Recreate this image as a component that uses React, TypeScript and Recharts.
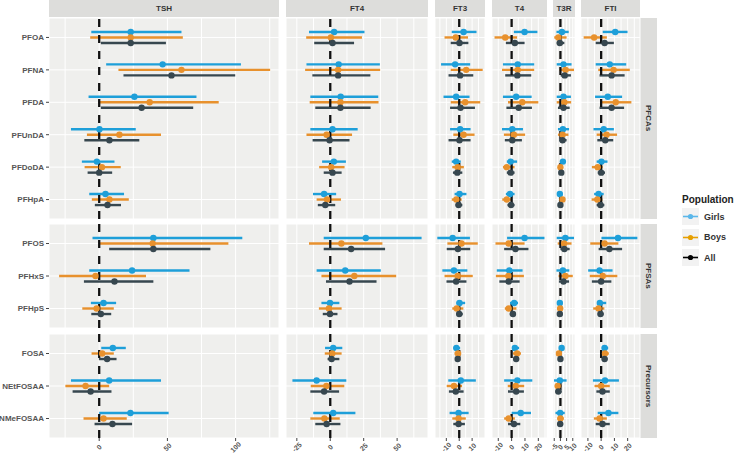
import React from "react";
import { ScatterChart, Scatter, XAxis, YAxis, CartesianGrid, ErrorBar, ReferenceLine } from "recharts";

// compounds, grouped by the right-hand facet
const PFCAS = ["PFOA", "PFNA", "PFDA", "PFUnDA", "PFDoDA", "PFHpA"];
const PFSAS = ["PFOS", "PFHxS", "PFHpS"];
const PRECURSORS = ["FOSA", "NEtFOSAA", "NMeFOSAA"];
const GROUPS = [
  { name: "PFCAs", items: PFCAS },
  { name: "PFSAs", items: PFSAS },
  { name: "Precursors", items: PRECURSORS },
];

// [estimate, lower, upper] per compound, same order as above (PFCAs, PFSAs, Precursors)
const TSH_GIRLS = [[23.1, -5.8, 60.3], [46.5, 5.1, 103.9], [25.8, -7.8, 71.3], [0.2, -20.7, 26.8], [-1.7, -12.7, 11.2], [4.6, -7.3, 18.2], [39.7, -4.9, 104.9], [24.1, -7.3, 66.2], [3.2, -6.1, 12.4], [10, 1.5, 19.5], [7.3, -20.7, 45.3], [22.9, 0, 50.9]];
const TSH_BOYS = [[23.1, -6.6, 61.3], [60.3, 14.1, 125.3], [37, -0.5, 87.6], [14.8, -9, 45.3], [2, -10.7, 15.8], [7.5, -5.4, 21.7], [39.2, 0, 94.7], [-2.7, -29.4, 34.3], [-1.9, -12.4, 10.7], [2.2, -5.6, 10.7], [-10, -24.8, 7.3], [3.2, -11.5, 20.2]];
const TSH_ALL = [[23.1, 1.2, 48.9], [53, 17.8, 99.7], [31.1, 1.2, 68.9], [7.5, -10.9, 29.4], [0, -8.5, 9.5], [6.1, -3.2, 16], [39.7, 7.3, 81.5], [11.2, -11.2, 39.7], [1.2, -5.8, 8.8], [5.8, -0.2, 12.7], [-6.3, -19.5, 9], [9.7, -3.4, 24.1]];

const FT4_GIRLS = [[2.9, -15.9, 25.6], [6.3, -17.8, 37.1], [7.8, -14.9, 35.9], [1.7, -14.9, 20.5], [2.7, -6.1, 11.7], [-4.6, -12.9, 4.4], [26.6, -4.9, 68.3], [11.2, -10.2, 37.8], [-0.2, -6.6, 6.8], [2.2, -3.9, 9], [-10.2, -28.3, 12], [2.2, -12.7, 18.8]];
const FT4_BOYS = [[0.5, -18, 23.7], [5.9, -18.8, 37.3], [7.6, -15.4, 36.1], [-2.7, -17.8, 16.3], [0.7, -8.3, 10.7], [-2.4, -10.2, 8], [8.3, -15.9, 39], [18, -6.6, 49.3], [-1, -8.5, 8.5], [1.5, -4.1, 8.5], [-2.9, -14.6, 10.5], [-4.4, -14.9, 7.1]];
const FT4_ALL = [[1.7, -12, 17.8], [5.9, -13.4, 30], [7.6, -11.2, 30.2], [-0.5, -13.2, 14.4], [1.7, -4.9, 8.5], [-3.7, -9.3, 3.7], [15.6, -4.9, 41], [14.4, -3.2, 34.6], [-0.2, -5.6, 5.4], [1, -2, 6.8], [-4.6, -14.9, 6.6], [-2.7, -11.2, 7.6]];

const FT3_GIRLS = [[3.4, -5.8, 13.4], [-3.2, -14.1, 8.5], [-2.4, -12.2, 8], [0.7, -7.1, 8.8], [-2.4, -5.8, 1.2], [0.2, -3.6, 5.6], [-5.1, -17, 8.3], [-4.1, -13.1, 6.3], [0.2, -2.2, 4.6], [-2.2, -4.6, 0.7], [1.2, -8.5, 12.9], [-0.5, -7.5, 7.3]];
const FT3_BOYS = [[-2.7, -11.4, 6.8], [5.4, -6.6, 18.2], [4.6, -6.6, 16.3], [3.4, -4.6, 11.9], [-1.2, -5.4, 3.6], [-2.2, -5.8, 1.9], [1.7, -9.2, 14.4], [-1.2, -11.4, 10.5], [-1.9, -5.4, 3.2], [-1, -3.6, 1.5], [-4.1, -9.7, 2.2], [-0.5, -5.4, 5.1]];
const FT3_ALL = [[0.2, -6.6, 7.1], [0.7, -8.3, 10.9], [1, -7.1, 12.2], [0.2, -8.3, 8.8], [-1.5, -4.9, 2.4], [-0.5, -2.9, 2.4], [-1, -9.7, 8.5], [-2.4, -9.9, 5.6], [0, -2.2, 2.7], [-1.2, -3.2, 0.7], [-2.7, -8, 3.4], [-0.5, -4.6, 4.4]];

const T4_GIRLS = [[9.7, 1.7, 19.3], [4.6, -6.5, 16.9], [3.4, -6.5, 15], [0.5, -7.2, 8.5], [-0.7, -3.6, 4.1], [-1.2, -4.3, 2.2], [9.7, -3.4, 24.6], [-1.7, -11.1, 8.2], [1.9, -1.2, 4.8], [2.4, 0.5, 5.6], [4.3, -5.6, 15.5], [6.8, 0, 14.5]];
const T4_BOYS = [[-4.8, -12.8, 4.1], [4.6, -7.2, 16.9], [8, -2.7, 20], [1.7, -5.8, 10.1], [-3.6, -6.5, 2.2], [-3.6, -7, -0.2], [-2.2, -12.1, 9.7], [-2.4, -11.8, 9.2], [-2.2, -5.1, 3.6], [4.1, 1, 7], [3.1, -2.9, 9.4], [-2.2, -5.6, 2.4]];
const T4_ALL = [[2.4, -4.3, 9.7], [4.3, -4.8, 14.7], [5.3, -3.9, 15.2], [0.5, -5.1, 7.7], [-0.7, -3.6, 2.2], [-0.5, -3.1, 2.2], [2.9, -5.6, 12.6], [-2.2, -9.2, 6], [1, -1.4, 3.1], [3.4, 1.2, 5.6], [3.4, -2.7, 9.2], [1.7, -2.7, 6.5]];

const T3R_GIRLS = [[1.2, -3.2, 6.7], [2.5, -3, 9], [2.5, -3, 8.5], [2, -2, 7], [2, 0, 4], [-0.5, -2.5, 1.5], [4, -3, 11], [2, -3.2, 7.2], [-0.5, -2.5, 1.5], [1, -1, 2.5], [-0.5, -5.2, 5], [-0.2, -4, 3.5]];
const T3R_BOYS = [[-1.7, -5, 5], [4.2, -0.7, 11], [3.2, -3, 8.7], [1.7, -2, 6.5], [0, -1.7, 2], [1.7, -1.2, 3.5], [3, -2.2, 9], [4, -1.5, 10], [-0.2, -2.5, 2], [-1.2, -3, 0.5], [-2.2, -4.5, 1], [0, -2.5, 2.7]];
const T3R_ALL = [[-0.5, -3, 3.2], [3.5, 0.2, 8.5], [2.5, -2, 7.5], [1.7, -1, 5], [0.7, -1.2, 2.5], [0, -1.5, 2], [3.2, 0, 7.5], [2.5, -1.2, 7], [-0.5, -2.2, 1.5], [0, -1.5, 1.5], [-1.7, -4, 1], [-0.2, -2.5, 2.2]];

const FTI_GIRLS = [[10.6, 1.2, 19.9], [6.5, -4.1, 18.9], [5, -4.6, 15.8], [1.9, -5.8, 9.6], [0.2, -3.4, 4.8], [-1.9, -5.3, 1.9], [12.7, 0.2, 27.3], [-1.2, -9.8, 8.6], [-1, -2.9, 3.8], [2.6, 0.5, 5.3], [2.9, -6.2, 13.4], [5.5, -2.6, 13]];
const FTI_BOYS = [[-5.3, -13.2, 4.3], [9.4, -2.2, 21.6], [11, 0, 22.8], [4.1, -3.4, 12], [-2.6, -7, 1.2], [-2.9, -7.2, 1], [2.6, -8.2, 13], [1.2, -8.6, 12.2], [-1.9, -6, 2.4], [2.9, 0.2, 5.8], [0, -5, 6.5], [-1.2, -5.5, 4.3]];
const FTI_ALL = [[2.6, -4.1, 9.6], [7.9, -1.2, 17.7], [7.9, -1.2, 17.3], [3.1, -2.9, 9.1], [0, -2.6, 2.9], [-0.5, -3.4, 2.4], [6.2, -1.9, 15.8], [0, -7, 7.7], [-0.5, -2.6, 1.9], [2.6, 0.5, 4.8], [1, -3.6, 6.5], [1, -4.1, 6.5]];

// axis ticks: labelled ones and the extra minor grid lines
const TSH_TICKS = [0, 50, 100];
const TSH_GRID = [-25, 0, 25, 50, 75, 100, 125];
const FT4_TICKS = [-25, 0, 25, 50];
const FT4_GRID = [-25, -12.5, 0, 12.5, 25, 37.5, 50, 62.5];
const FT3_TICKS = [-10, 0, 10];
const FT3_GRID = [-15, -10, -5, 0, 5, 10, 15];
const T4_TICKS = [-10, 0, 10, 20];
const T4_GRID = [-10, -5, 0, 5, 10, 15, 20, 25];
const T3R_TICKS = [-5, 0, 5, 10];
const T3R_GRID = [-5, -2.5, 0, 2.5, 5, 7.5, 10];
const FTI_TICKS = [-10, 0, 10, 20];
const FTI_GRID = [-10, -5, 0, 5, 10, 15, 20, 25];

const POPS = [
  { name: "Girls", color: "#1E9FD9", key: "#5BB7EA" },
  { name: "Boys", color: "#E8912D", key: "#E69F00" },
  { name: "All", color: "#37474F", key: "#000000" },
];

const HORMONES = [
  { name: "TSH", x: 49, w: 230, dom: [-36.8, 131.8], ticks: TSH_TICKS, grid: TSH_GRID, series: [TSH_GIRLS, TSH_BOYS, TSH_ALL] },
  { name: "FT4", x: 286, w: 142, dom: [-33.1, 73.1], ticks: FT4_TICKS, grid: FT4_GRID, series: [FT4_GIRLS, FT4_BOYS, FT4_ALL] },
  { name: "FT3", x: 435, w: 50, dom: [-18.8, 20], ticks: FT3_TICKS, grid: FT3_GRID, series: [FT3_GIRLS, FT3_BOYS, FT3_ALL] },
  { name: "T4", x: 492, w: 55, dom: [-14.7, 26.5], ticks: T4_TICKS, grid: T4_GRID, series: [T4_GIRLS, T4_BOYS, T4_ALL] },
  { name: "T3R", x: 553, w: 22, dom: [-6, 11.8], ticks: T3R_TICKS, grid: T3R_GRID, series: [T3R_GIRLS, T3R_BOYS, T3R_ALL] },
  { name: "FTI", x: 581, w: 59, dom: [-15.2, 29.3], ticks: FTI_TICKS, grid: FTI_GRID, series: [FTI_GIRLS, FTI_BOYS, FTI_ALL] },
];

const ROWS = [
  { y: 18, h: 201 },
  { y: 224, h: 104 },
  { y: 334, h: 104 },
];

const FONT = "'Liberation Sans', Arial, sans-serif";
const PANEL = "#EFEFED";
const STRIP = "#DDDDDB";
const DODGE = 0.17;
const LEFT_W = 49;
const BOTTOM_H = 18;

function XTick({ x, y, payload, majors }: any) {
  if (!majors.includes(payload.value)) return null;
  return (
    <g transform={`translate(${x},${y})`}>
      <line x1={0} x2={0} y1={0} y2={3} stroke="#444" strokeWidth={1} />
      <text transform="translate(0,9) rotate(-45)" textAnchor="middle" dominantBaseline="central" fontSize={7} fontWeight={700} fill="#555" fontFamily={FONT}>
        {payload.value}
      </text>
    </g>
  );
}

function Panel({ hormone, group, gi, row, left, bottom }: any) {
  const n = group.items.length;
  const start = GROUPS.slice(0, gi).reduce((a: number, g: any) => a + g.items.length, 0);
  const w = hormone.w + (left ? LEFT_W : 0);
  const h = row.h + (bottom ? BOTTOM_H : 0);
  const yTicks = group.items.map((_: string, i: number) => i + 1);
  return (
    <div style={{ position: "absolute", left: left ? 0 : hormone.x, top: row.y, width: w, height: h }}>
      <ScatterChart width={w} height={h} margin={{ top: 0, right: 0, bottom: 0, left: 0 }}>
        <CartesianGrid fill={PANEL} fillOpacity={1} stroke="#FFFFFF" strokeWidth={1} />
        <XAxis type="number" dataKey="x" domain={hormone.dom} ticks={hormone.grid} interval={0} allowDataOverflow
          hide={!bottom} height={BOTTOM_H} axisLine={false} tickLine={false} tickSize={0} tickMargin={0}
          tick={<XTick majors={hormone.ticks} />} />
        <YAxis type="number" dataKey="y" domain={[0.4, n + 0.6]} reversed ticks={yTicks} interval={0} allowDataOverflow
          hide={!left} width={LEFT_W} axisLine={false} tickSize={3} tickMargin={2} tickLine={{ stroke: "#444" }}
          tickFormatter={(v: number) => group.items[v - 1] || ""}
          tick={{ fontSize: 8, fontWeight: 700, fill: "#555", fontFamily: FONT }} />
        {POPS.map((p, pi) => {
          const vals = hormone.series[pi].slice(start, start + n);
          const data = vals.map((v: number[], i: number) => ({
            x: v[0], y: i + 1 + (pi - 1) * DODGE, err: [v[0] - v[1], v[2] - v[0]],
          }));
          return (
            <Scatter key={p.name} data={data} fill={p.color} isAnimationActive={false}
              shape={(s: any) => <circle cx={s.cx} cy={s.cy} r={3.2} fill={p.color} />}>
              <ErrorBar dataKey="err" direction="x" width={0} stroke={p.color} strokeWidth={2.4} />
            </Scatter>
          );
        })}
        <ReferenceLine x={0} stroke="#111" strokeWidth={2.3} strokeDasharray="8 8" />
      </ScatterChart>
    </div>
  );
}

export default function App() {
  return (
    <div style={{ position: "absolute", left: 0, top: 0, width: 736, height: 456, background: "#fff", fontFamily: FONT }}>
      <style>{`.recharts-wrapper, .recharts-surface { overflow: visible !important; }`}</style>
      {HORMONES.map((hm) => (
        <div key={hm.name} style={{ position: "absolute", left: hm.x, top: 0, width: hm.w, height: 17, background: STRIP,
          display: "flex", alignItems: "center", justifyContent: "center", fontSize: 8, fontWeight: 700, color: "#333" }}>
          {hm.name}
        </div>
      ))}
      {GROUPS.map((g, gi) => (
        <div key={g.name} style={{ position: "absolute", left: 640, top: ROWS[gi].y, width: 17, height: ROWS[gi].h, background: STRIP,
          display: "flex", alignItems: "center", justifyContent: "center", fontSize: 8, fontWeight: 700, color: "#333" }}>
          <span style={{ writingMode: "vertical-rl" }}>{g.name}</span>
        </div>
      ))}
      {GROUPS.map((g, gi) =>
        HORMONES.map((hm, hi) => (
          <Panel key={g.name + hm.name} hormone={hm} group={g} gi={gi} row={ROWS[gi]} left={hi === 0} bottom={gi === GROUPS.length - 1} />
        ))
      )}
      <div style={{ position: "absolute", left: 682, top: 194, fontSize: 10, fontWeight: 700, color: "#222" }}>Population</div>
      {POPS.map((p, i) => (
        <div key={p.name} style={{ position: "absolute", left: 682, top: 208 + i * 20.5, height: 17, display: "flex", alignItems: "center" }}>
          <svg width={17} height={17} style={{ background: "#F2F2F2" }}>
            <line x1={1} x2={16} y1={8.5} y2={8.5} stroke={p.key} strokeWidth={1.6} />
            <circle cx={8.5} cy={8.5} r={2.6} fill={p.key} />
          </svg>
          <span style={{ marginLeft: 5, fontSize: 9, fontWeight: 700, color: "#333" }}>{p.name}</span>
        </div>
      ))}
    </div>
  );
}
